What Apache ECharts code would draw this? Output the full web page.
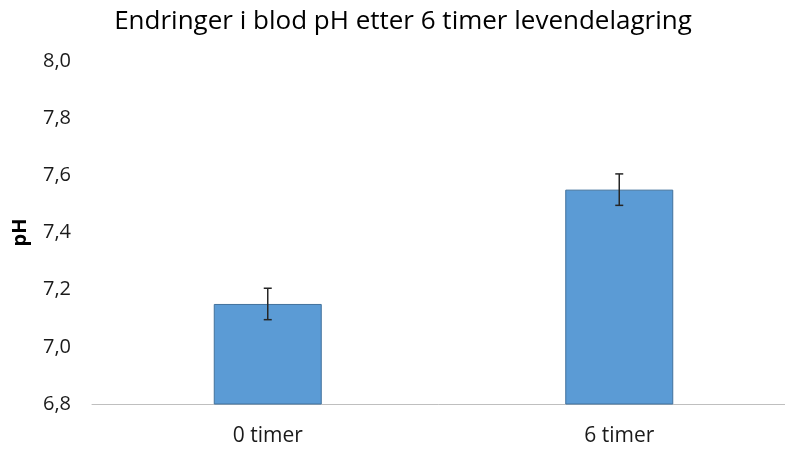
<!DOCTYPE html>
<html>
<head>
<meta charset="utf-8">
<script src="https://cdn.jsdelivr.net/npm/echarts@6/dist/echarts.min.js"></script>
<style>
  html, body { margin: 0; padding: 0; background: #fff; }
  #chart { width: 785px; height: 450px; }
</style>
</head>
<body>
<div id="chart"></div>
<script>
const categories = ['0 timer', '6 timer'];
const phValues = [7.15, 7.55];
const phError = [0.055, 0.055];
const yTicks = { min: 6.8, max: 8.0, step: 0.2 };

const chart = echarts.init(document.getElementById('chart'));

const errData = phValues.map((v, i) => [i, v - phError[i], v + phError[i]]);

const option = {
  backgroundColor: '#ffffff',
  animation: false,
  title: {
    text: 'Endringer i blod pH etter 6 timer levendelagring',
    left: 398,
    textAlign: 'center',
    top: 4,
    textStyle: {
      fontFamily: 'Open Sans',
      fontSize: 26,
      fontWeight: 'normal',
      color: '#000',
    },
  },
  grid: {
    left: 92,
    width: 703,
    top: 61,
    bottom: 46,
    outerBoundsMode: 'none',
  },
  xAxis: {
    type: 'category',
    data: categories,
    axisLine: { lineStyle: { color: '#bfbfbf', width: 1 } },
    axisTick: { show: false },
    axisLabel: {
      fontFamily: 'Open Sans',
      fontSize: 21,
      color: '#1a1a1a',
      margin: 22,
    },
  },
  yAxis: {
    type: 'value',
    min: yTicks.min,
    max: yTicks.max,
    interval: yTicks.step,
    name: 'pH',
    nameLocation: 'middle',
    nameGap: 62,
    nameRotate: 90,
    nameTextStyle: {
      fontFamily: 'Open Sans',
      fontSize: 20,
      fontWeight: 'bold',
      color: '#000',
    },
    axisLine: { show: false },
    axisTick: { show: false },
    splitLine: { show: false },
    axisLabel: {
      fontFamily: 'Open Sans',
      fontSize: 20,
      color: '#1a1a1a',
      margin: 21,
      formatter: (v) => v.toFixed(1).replace('.', ','),
    },
  },
  series: [
    {
      type: 'bar',
      data: phValues,
      barWidth: 108,
      itemStyle: {
        color: '#5B9BD5',
        borderColor: '#41719C',
        borderWidth: 1,
      },
    },
    {
      type: 'custom',
      data: errData,
      z: 10,
      renderItem: (params, api) => {
        const x = api.value(0);
        const lo = api.coord([x, api.value(1)]);
        const hi = api.coord([x, api.value(2)]);
        const cap = 4;
        const style = { stroke: '#262626', lineWidth: 1.5 };
        return {
          type: 'group',
          children: [
            { type: 'line', shape: { x1: hi[0], y1: hi[1], x2: lo[0], y2: lo[1] }, style },
            { type: 'line', shape: { x1: hi[0] - cap, y1: hi[1], x2: hi[0] + cap, y2: hi[1] }, style },
            { type: 'line', shape: { x1: lo[0] - cap, y1: lo[1], x2: lo[0] + cap, y2: lo[1] }, style },
          ],
        };
      },
    },
  ],
};

chart.setOption(option);
window.addEventListener('resize', () => chart.resize());
</script>
</body>
</html>
